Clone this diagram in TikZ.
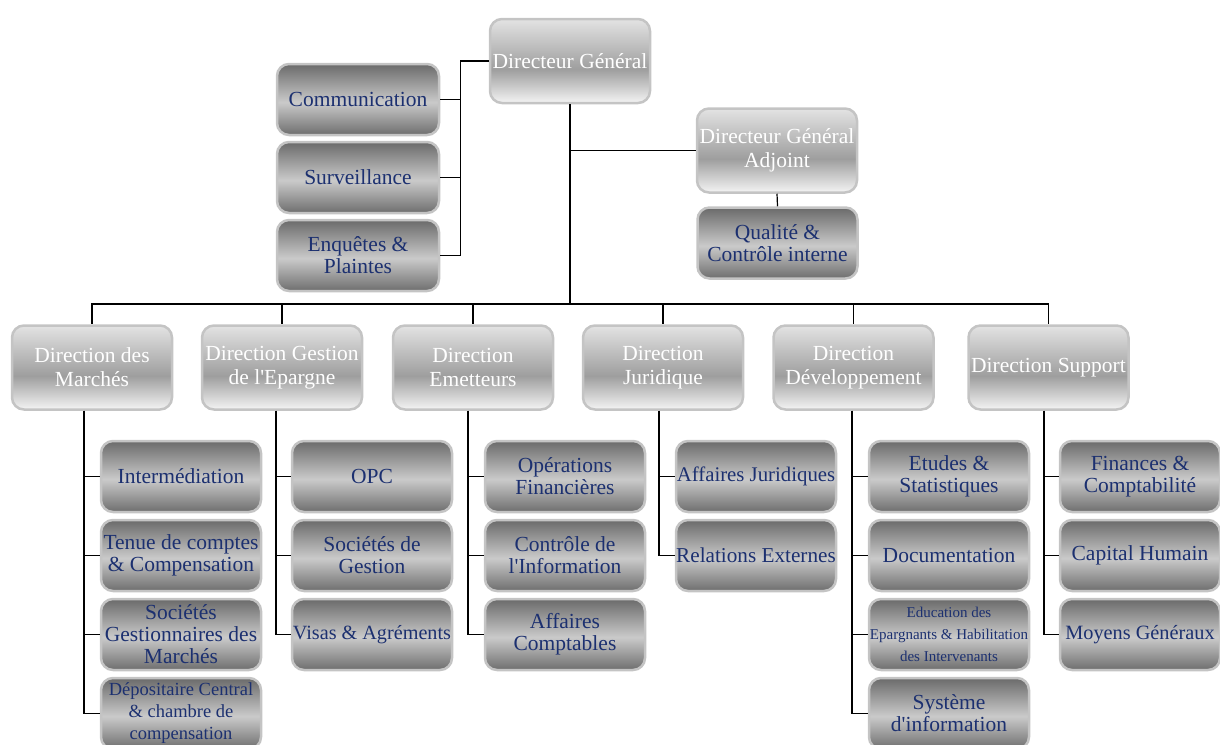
\documentclass[tikz,border=0pt]{standalone}
\usepackage{fontspec}
\setmainfont{Liberation Serif}
\definecolor{ltop}{HTML}{E3E3E3}
\definecolor{lmid}{HTML}{9E9E9E}
\definecolor{lbot}{HTML}{F4F4F4}
\definecolor{dtop}{HTML}{6A6A6A}
\definecolor{dmid}{HTML}{CACACA}
\definecolor{dbot}{HTML}{6E6E6E}
\definecolor{rim}{HTML}{C4C4C4}
\definecolor{navy}{HTML}{1C3070}
\pgfdeclareverticalshading{lightbar}{100bp}{color(0bp)=(lbot); color(25bp)=(lbot); color(45bp)=(lmid); color(75bp)=(ltop); color(100bp)=(ltop)}
\pgfdeclareverticalshading{darkbar}{100bp}{color(0bp)=(dbot); color(25bp)=(dbot); color(48bp)=(dmid); color(75bp)=(dtop); color(100bp)=(dtop)}

\begin{document}
\begin{tikzpicture}[x=1pt,y=-1pt]
\tikzset{
  box/.style={rounded corners=12pt,draw=rim,line width=2.5pt,shade,align=center,inner sep=0pt},
  head/.style={box,shading=lightbar,text=white,minimum width=160pt,minimum height=84pt,font=\fontsize{21.5}{24}\selectfont},
  dept/.style={box,shading=darkbar,text=navy,minimum width=160pt,minimum height=71pt,font=\fontsize{#1}{22}\selectfont},
  dept/.default=21.5,
  link/.style={line width=1.2pt}
}
\useasboundingbox (0,0) rectangle (1220,744);

% top of the chart
\node[head] (dg) at (570,61) {Directeur Général};
\node[head] (dga) at (777,150.5) {Directeur Général\\Adjoint};
\node[dept] (qci) at (777.5,243) {Qualité \&\\Contrôle interne};
\foreach \s/\sy/\lab in {com/99.5/Communication, surv/177.5/Surveillance, enq/255.5/Enquêtes \&\\Plaintes}
    \node[dept,minimum width=162pt] (\s) at (358,\sy) {\lab};

\foreach \s in {com,surv,enq}
    \draw[link] (dg.west) -| ([xshift=20pt]\s.east) -- (\s.east);
\draw[link] (dg.south |- dga.west) -- (dga.west);
\draw[link] (dga.south) -- (qci.north);

% the six directions, hanging from one bus
\coordinate (bus) at (570,304);
\draw[link] (dg.south) -- (bus);
\foreach \dir/\dx/\lab in {dm/92/Direction des\\Marchés, dge/282/Direction Gestion\\de l\textquotesingle Epargne,
    dem/473/Direction\\Emetteurs, dju/663/Direction\\Juridique,
    ddv/853.5/Direction\\Développement, dsu/1048.5/Direction Support}
{
    \node[head] (\dir) at (\dx,367.5) {\lab};
    \draw[link] (bus) -| (\dir.north);
}

% departments of each direction, one column each (font size/text)
\foreach \dir/\off/\sx/\subs in {
    dm/-8/181/{21.5/Intermédiation, 21.5/Tenue de comptes\\\& Compensation, 21.5/Sociétés\\Gestionnaires des\\Marchés,
        18.5/Dépositaire Central\\\& chambre de\\compensation},
    dge/-6/372/{21.5/OPC, 21.5/Sociétés de\\Gestion, 20.2/Visas \& Agréments},
    dem/-5/565/{21.5/Opérations\\Financières, 21.5/Contrôle de\\l\textquotesingle Information, 21.5/Affaires\\Comptables},
    dju/-4/756/{20.8/Affaires Juridiques, 21.2/Relations Externes},
    ddv/-1.5/949/{21.5/Etudes \&\\Statistiques, 21.5/Documentation,
        15/Education des\\Epargnants \& Habilitation\\des Intervenants, 21.5/Système\\d\textquotesingle information},
    dsu/-4.5/1140/{21.5/Finances \&\\Comptabilité, 21.5/Capital Humain, 20.3/Moyens Généraux}}
{
    \foreach \fs/\t [count=\k] in \subs
    {
        \node[dept=\fs] (\dir\k) at (\sx,397.5+79*\k) {\t};
        \draw[link] ([xshift=\off pt]\dir.south) |- (\dir\k.west);
    }
}
\end{tikzpicture}
\end{document}
